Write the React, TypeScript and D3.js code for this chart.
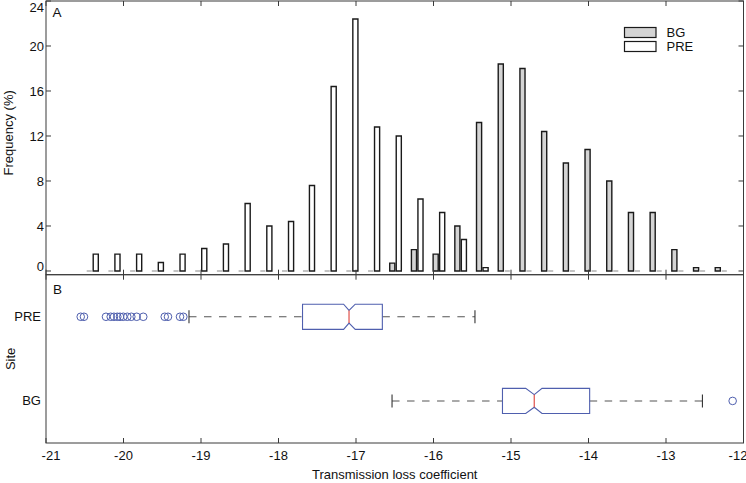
import React from "react";
import * as d3 from "d3";

// ---------- DATA ----------
const binCenters = [
  -20.40, -20.12, -19.84, -19.56, -19.28, -19.00, -18.72, -18.44, -18.16, -17.88,
  -17.61, -17.33, -17.05, -16.77, -16.49, -16.21, -15.93, -15.65, -15.37, -15.09,
  -14.81, -14.53, -14.25, -13.97, -13.69, -13.41, -13.13, -12.85, -12.57, -12.29,
];
const bgFreq = [
  0, 0, 0, 0, 0, 0, 0, 0, 0, 0,
  0, 0, 0, 0, 0.7, 1.9, 1.5, 4.0, 13.2, 18.4,
  18.0, 12.4, 9.6, 10.8, 8.0, 5.2, 5.2, 1.9, 0.3, 0.3,
];
const preFreq = [
  1.5, 1.5, 1.5, 0.75, 1.5, 2.0, 2.4, 6.0, 4.0, 4.4,
  7.6, 16.4, 22.4, 12.8, 12.0, 6.4, 5.2, 2.8, 0.3, 0,
  0, 0, 0, 0, 0, 0, 0, 0, 0, 0,
];
const seriesNames = ["BG", "PRE"];
const xTicks = [-21, -20, -19, -18, -17, -16, -15, -14, -13, -12];
const yTicks = [0, 4, 8, 12, 16, 20, 24];

const sites = ["PRE", "BG"];
const boxQ1 = [-17.69, -15.11];
const boxMedian = [-17.09, -14.70];
const boxQ3 = [-16.66, -13.985];
const notchLo = [-17.16, -14.81];
const notchHi = [-17.01, -14.60];
const whiskerLo = [-19.155, -16.535];
const whiskerHi = [-15.465, -12.53];
const preOutliers = [
  -20.552, -20.51, -20.226, -20.165, -20.123, -20.08, -20.045, -20.003,
  -19.951, -19.899, -19.83, -19.745, -19.468, -19.426, -19.271, -19.228,
];
const bgOutliers = [-12.14];
const outliers = [preOutliers, bgOutliers];

// ---------- LAYOUT ----------
const W = 746;
const H = 483;
const FONT = "'Liberation Sans', Arial, Helvetica, sans-serif";
const left = 46;
const right = 743.5;
const topA = 1;
const botA = 274.7;
const topB = 274.7;
const botB = 443;

const x = d3.scaleLinear().domain([-21, -12]).range([left, right]);
const yA = d3.scaleLinear().domain([-0.33, 24]).range([botA, topA]);
const yB = d3.scalePoint<string>().domain(sites).range([topB, botB]).padding(0.5);

const binW = binCenters[1] - binCenters[0];
const barW = x(binW * 0.235) - x(0);
const barOff = x(binW * 0.15) - x(0);

const axisColor = "#3a3a3a";
const boxColor = "#4f5fae";
const medColor = "#e0504a";
const tickLen = 5;

function barPath(cx: number, v: number) {
  const x0 = cx - barW / 2;
  const x1 = cx + barW / 2;
  const y0 = yA(0);
  const y1 = yA(v);
  return `M${x0},${y0}V${y1}H${x1}V${y0}Z`;
}

function yLabelPos(t: number) {
  if (t === 0) return yA(t) - 5;
  if (t === 24) return yA(t) + 6;
  return yA(t);
}

function xLabelPos(t: number) {
  if (t === -21) return x(t) + 5;
  if (t === -12) return x(t) - 5.5;
  return x(t);
}

export default function App() {
  const boxHalf = 12.6;
  const capHalf = 6.5;
  return (
    <svg
      width={W}
      height={H}
      style={{ position: "absolute", left: 0, top: 0, background: "#fff" }}
      fontFamily={FONT}
    >
      <rect x={0} y={0} width={W} height={H} fill="#fff" />

      {/* ---------- Panel A ---------- */}
      {binCenters.map((c, i) => {
        const cx = x(c);
        return (
          <g key={"bar" + i}>
            <path
              d={barPath(cx - barOff, bgFreq[i])}
              fill="#d4d4d4"
              stroke={bgFreq[i] === 0 ? "#b0b0b0" : "#1a1a1a"}
              strokeWidth={1.4}
            />
            <path
              d={barPath(cx + barOff, preFreq[i])}
              fill="#ffffff"
              stroke={preFreq[i] === 0 ? "#b0b0b0" : "#1a1a1a"}
              strokeWidth={1.4}
            />
          </g>
        );
      })}
      <rect x={left} y={topA} width={right - left} height={botA - topA} fill="none" stroke={axisColor} strokeWidth={1} />
      {xTicks.map((t) => (
        <g key={"ta" + t}>
          <line x1={x(t)} x2={x(t)} y1={topA} y2={topA + tickLen} stroke={axisColor} />
          <line x1={x(t)} x2={x(t)} y1={botA} y2={botA - tickLen} stroke={axisColor} />
        </g>
      ))}
      {yTicks.map((t) => (
        <g key={"ya" + t}>
          <line x1={left} x2={left + tickLen} y1={yA(t)} y2={yA(t)} stroke={axisColor} />
          <line x1={right} x2={right - tickLen} y1={yA(t)} y2={yA(t)} stroke={axisColor} />
          <text
            x={left - 2}
            y={yLabelPos(t)}
            dy="0.35em"
            textAnchor="end"
            fontSize={13}
            fill="#111"
          >
            {t}
          </text>
        </g>
      ))}
      <text x={52.5} y={17} fontSize={13.5} fill="#111">A</text>
      <text
        transform={`translate(13,${(topA + botA) / 2 - 5}) rotate(-90)`}
        textAnchor="middle"
        fontSize={13}
        fill="#111"
      >
        Frequency (%)
      </text>

      {/* legend */}
      {seriesNames.map((name, i) => (
        <g key={"leg" + name} transform={`translate(624.5,${27.5 + i * 14})`}>
          <rect width={31.5} height={10} fill={i === 0 ? "#d4d4d4" : "#fff"} stroke="#1a1a1a" strokeWidth={1.2} />
          <text x={42} y={9.6} fontSize={13} fill="#111">{name}</text>
        </g>
      ))}

      {/* ---------- Panel B ---------- */}
      <rect x={left} y={topB} width={right - left} height={botB - topB} fill="none" stroke={axisColor} strokeWidth={1} />
      {xTicks.map((t) => (
        <g key={"tb" + t}>
          <line x1={x(t)} x2={x(t)} y1={topB} y2={topB + tickLen} stroke={axisColor} />
          <line x1={x(t)} x2={x(t)} y1={botB} y2={botB - tickLen} stroke={axisColor} />
          <text x={xLabelPos(t)} y={460} textAnchor="middle" fontSize={13} fill="#111">{t}</text>
        </g>
      ))}
      <text x={53} y={294} fontSize={13.5} fill="#111">B</text>
      {sites.map((s, i) => {
        const cy = yB(s) as number;
        const q1 = x(boxQ1[i]);
        const q3 = x(boxQ3[i]);
        const md = x(boxMedian[i]);
        const nl = x(notchLo[i]);
        const nh = x(notchHi[i]);
        const wl = x(whiskerLo[i]);
        const wh = x(whiskerHi[i]);
        const inner = boxHalf / 2;
        const boxD = `M${q1},${cy - boxHalf}H${nl}L${md},${cy - inner}L${nh},${cy - boxHalf}H${q3}V${cy + boxHalf}H${nh}L${md},${cy + inner}L${nl},${cy + boxHalf}H${q1}Z`;
        return (
          <g key={"box" + s}>
            <text x={41} y={cy} dy="0.35em" textAnchor="end" fontSize={13} fill="#111">{s}</text>
            <line x1={wl} x2={q1} y1={cy} y2={cy} stroke="#555" strokeWidth={1.1} strokeDasharray="7.5,7.5" />
            <line x1={q3} x2={wh} y1={cy} y2={cy} stroke="#555" strokeWidth={1.1} strokeDasharray="7.5,7.5" />
            <line x1={wl} x2={wl} y1={cy - capHalf} y2={cy + capHalf} stroke="#333" strokeWidth={1.1} />
            <line x1={wh} x2={wh} y1={cy - capHalf} y2={cy + capHalf} stroke="#333" strokeWidth={1.1} />
            <path d={boxD} fill="none" stroke={boxColor} strokeWidth={1.1} />
            <line x1={md} x2={md} y1={cy - inner} y2={cy + inner} stroke={medColor} strokeWidth={1.2} />
            {outliers[i].map((o, j) => (
              <circle key={j} cx={x(o)} cy={cy} r={3.8} fill="none" stroke={boxColor} strokeWidth={1} />
            ))}
          </g>
        );
      })}
      <text
        transform={`translate(15,${(topB + botB) / 2}) rotate(-90)`}
        textAnchor="middle"
        fontSize={13}
        fill="#111"
      >
        Site
      </text>
      <text x={(left + right) / 2} y={479} textAnchor="middle" fontSize={13} fill="#111">
        Transmission loss coefficient
      </text>
    </svg>
  );
}
